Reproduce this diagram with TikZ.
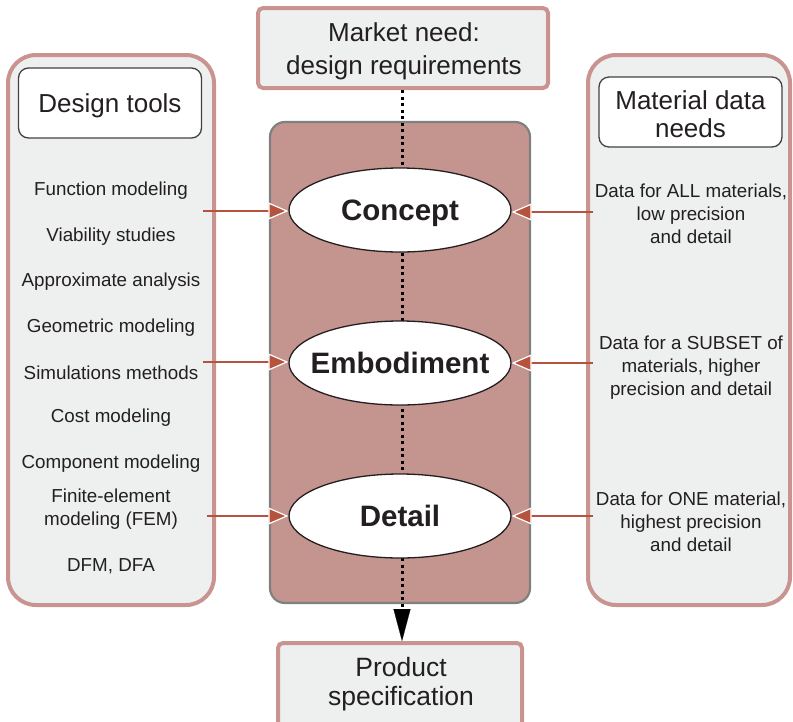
\documentclass[tikz,border=0pt]{standalone}
\usepackage{fontspec}
\setmainfont{Liberation Sans}
\usetikzlibrary{arrows.meta,shapes.geometric}
\definecolor{panelfill}{HTML}{EEF0EF}
\definecolor{panelline}{HTML}{C9948F}
\definecolor{corefill}{HTML}{C4948F}
\definecolor{coreline}{HTML}{808080}
\definecolor{arrowc}{HTML}{B5533F}
\definecolor{txt}{HTML}{231F20}
\tikzset{
  panel/.style={draw=panelline, fill=panelfill, line width=4pt, rounded corners=28pt, inner sep=0pt},
  endbox/.style={draw=panelline, fill=panelfill, line width=4pt, rounded corners=5pt, inner sep=0pt},
  titlebox/.style={draw=txt!85, fill=white, line width=1.3pt, rounded corners=10pt, inner sep=0pt},
  bigtext/.style={align=center, text=txt, inner sep=0pt, font=\fontsize{26}{33}\selectfont},
  corebox/.style={draw=coreline, fill=corefill, line width=2.2pt, rounded corners=15pt, inner sep=0pt},
  stage/.style={ellipse, draw=txt, fill=white, line width=1.3pt, minimum width=222pt, minimum height=84pt, inner xsep=-20pt, inner ysep=0pt, text height=21pt, text depth=0pt, text=txt, font=\fontsize{29.5}{34}\selectfont\bfseries},
  item/.style={align=center, text=txt, inner sep=0pt, font=\fontsize{18.8}{23}\selectfont},
  feed/.style={draw=arrowc, line width=2pt, -{Triangle[length=20pt,width=17pt,color=white,fill=arrowc,line width=1.2pt]}},
  flowline/.style={draw=black, line width=3pt, dash pattern=on 3pt off 3.5pt},
}
\begin{document}
\begin{tikzpicture}[x=1pt,y=-1pt]
\useasboundingbox (0,0) rectangle (793,721);
\clip (0,0) rectangle (793,721);
% panels
\node[panel, minimum width=206pt, minimum height=550pt] (tools) at (111,330) {};
\node[panel, minimum width=202pt, minimum height=550pt] (data) at (689,330) {};
\node[titlebox, minimum width=183pt, minimum height=70pt] (tooltitle) at (110,103) {};
\node[bigtext] (tooltitletext) at (110,106) {Design tools};
\node[titlebox, minimum width=183pt, minimum height=70pt] (datatitle) at (690.5,112) {};
\node[bigtext, font=\fontsize{26}{28}\selectfont] (datatitletext) at (690.5,114) {Material data\\needs};
% core
\node[corebox, minimum width=260pt, minimum height=481pt] (core) at (400,362.5) {};
% end boxes
\node[endbox, minimum width=290pt, minimum height=80pt] (market) at (403,48) {};
\node[bigtext] (markettext) at (404,51.5) {Market need:\\design requirements};
\node[endbox, minimum width=244pt, minimum height=94pt] (product) at (400,690) {};
\node[bigtext, font=\fontsize{26.5}{29}\selectfont] (producttext) at (401,684) {Product\\specification};
% flow line
\coordinate (tip) at (402,641);
\coordinate (tipbase) at (402,609);
\draw[flowline] (market.south -| tip) -- (tipbase);
\draw[black, line width=0.1pt, -{Triangle[length=32pt,width=17pt,fill=black]}] (tipbase) -- (tip);
% stages
\node[stage] (concept) at (400,210) {Concept};
\node[stage] (embodiment) at (400,363) {Embodiment};
\node[stage] (detail) at (400,516) {Detail};
% left items
\node[item] (t1) at (111,191) {Function modeling};
\node[item] (t2) at (111,237) {Viability studies};
\node[item] (t3) at (111,282) {Approximate analysis};
\node[item] (t4) at (111,328) {Geometric modeling};
\node[item] (t5) at (111,373) {Simulations methods};
\node[item] (t6) at (111,418) {Cost modeling};
\node[item] (t7) at (111,464) {Component modeling};
\node[item] (t8) at (111,509) {Finite-element\\modeling (FEM)};
\node[item] (t9) at (111,566) {DFM, DFA};
% right items
\node[item] (d1) at (691,214) {Data for ALL materials,\\low precision\\and detail};
\node[item] (d2) at (691,368) {Data for a SUBSET of\\materials, higher\\precision and detail};
\node[item] (d3) at (691,522) {Data for ONE material,\\highest precision\\and detail};
% feed arrows
\coordinate (la) at (203,211);
\coordinate (lb) at (203,362);
\coordinate (lc) at (207,516);
\coordinate (ra) at (593,212);
\coordinate (rb) at (593,363);
\coordinate (rc) at (593,516);
\draw[feed] (la) -- (la -| concept.west);
\draw[feed] (lb) -- (lb -| embodiment.west);
\draw[feed] (lc) -- (lc -| detail.west);
\draw[feed] (ra) -- (ra -| concept.east);
\draw[feed] (rb) -- (rb -| embodiment.east);
\draw[feed] (rc) -- (rc -| detail.east);
\end{tikzpicture}
\end{document}
